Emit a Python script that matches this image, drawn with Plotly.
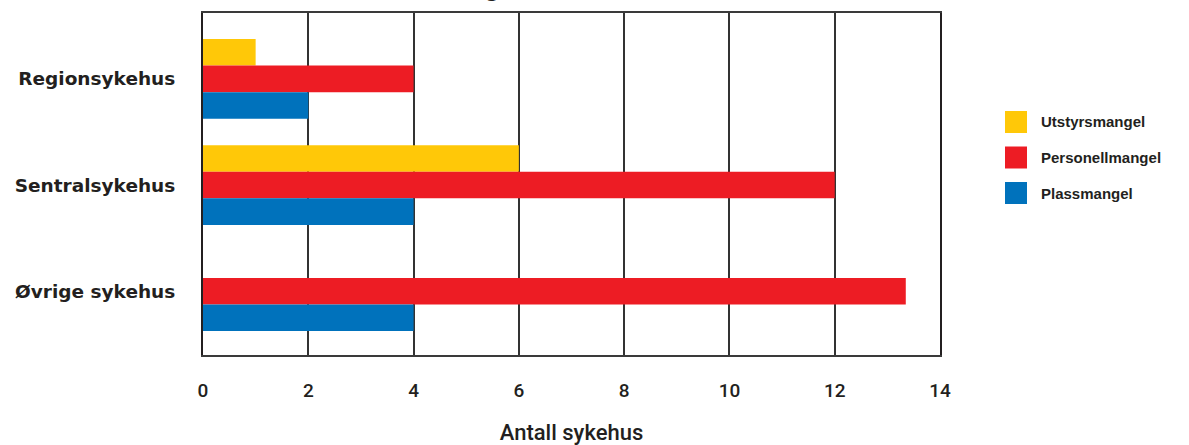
import plotly.graph_objects as go

# Sykehustyper (kategorier) og antall sykehus per årsak
categories = ["Regionsykehus", "Sentralsykehus", "Øvrige sykehus"]
series_names = ["Utstyrsmangel", "Personellmangel", "Plassmangel"]
utstyrsmangel = [1, 6, 0]
personellmangel = [4, 12, 13.35]
plassmangel = [2, 4, 4]
series_values = [utstyrsmangel, personellmangel, plassmangel]
series_colors = ["#FFC808", "#ED1C24", "#0072BC"]
x_ticks = [0, 2, 4, 6, 8, 10, 12, 14]

TEXT = "#231F20"
PLOT_L, PLOT_R, PLOT_T, PLOT_B = 203, 940, 13, 355
W, H = 1189, 445

fig = go.Figure()
for name, vals, col in zip(series_names, series_values, series_colors):
    fig.add_trace(go.Bar(
        y=categories, x=vals, name=name, orientation="h",
        marker=dict(color=col, line=dict(width=0)),
        showlegend=False,
    ))

# Legend drawn as coloured squares with labels to the right of the plot
pw = PLOT_R - PLOT_L
ph = PLOT_B - PLOT_T
def px_to_paper_x(px):
    return (px - PLOT_L) / pw
def px_to_paper_y(py):
    return (PLOT_B - py) / ph

shapes = []
annotations = []
row_y = [122, 157.5, 193]
for name, col, cy in zip(series_names, series_colors, row_y):
    shapes.append(dict(
        type="rect", xref="paper", yref="paper",
        x0=px_to_paper_x(1005), x1=px_to_paper_x(1027),
        y0=px_to_paper_y(cy + 11), y1=px_to_paper_y(cy - 11),
        fillcolor=col, line=dict(width=0),
    ))
    annotations.append(dict(
        xref="paper", yref="paper", x=px_to_paper_x(1039), y=px_to_paper_y(cy),
        xanchor="left", yanchor="middle", text=name, showarrow=False,
        font=dict(family="Liberation Sans, Arial, sans-serif", size=15,
                  color=TEXT, weight="bold"),
    ))

# Chart heading, mostly above the visible page area
annotations.append(dict(
    xref="paper", yref="paper", x=0, y=1, xanchor="left", yanchor="bottom",
    yshift=9, text="Årsak til overbelastning", showarrow=False,
    font=dict(family="Liberation Sans, Arial, sans-serif", size=26,
              color=TEXT, weight="bold"),
))

fig.update_layout(
    width=W, height=H,
    margin=dict(l=PLOT_L, r=W - PLOT_R, t=PLOT_T, b=H - PLOT_B, pad=0,
                autoexpand=False),
    paper_bgcolor="white", plot_bgcolor="white",
    barmode="group", bargap=0.25, bargroupgap=0,
    shapes=shapes, annotations=annotations,
    xaxis=dict(
        range=[0, 14], tickvals=x_ticks, ticktext=[str(t) for t in x_ticks],
        showgrid=True, gridcolor="#333333", gridwidth=2,
        zeroline=False, showline=True, linecolor="#3a3a3a", linewidth=2,
        mirror=True, ticks="", ticklabelstandoff=17, automargin=False,
        tickfont=dict(family="Roboto, Liberation Sans Narrow, sans-serif",
                      size=19, color=TEXT, weight=500),
        title=dict(text="Antall sykehus", standoff=31,
                   font=dict(family="Roboto, Liberation Sans Narrow, sans-serif",
                             size=22, color=TEXT, weight=500)),
    ),
    yaxis=dict(
        type="category", categoryorder="array", categoryarray=categories,
        range=[2.6, -0.62], showgrid=False, zeroline=False,
        showline=True, linecolor="#231F20", linewidth=2, mirror=True,
        ticks="", ticklabelstandoff=22, automargin=False,
        tickfont=dict(family="DejaVu Sans, sans-serif", size=18.5,
                      color=TEXT, weight="bold"),
    ),
)

fig.write_html("out.html")
